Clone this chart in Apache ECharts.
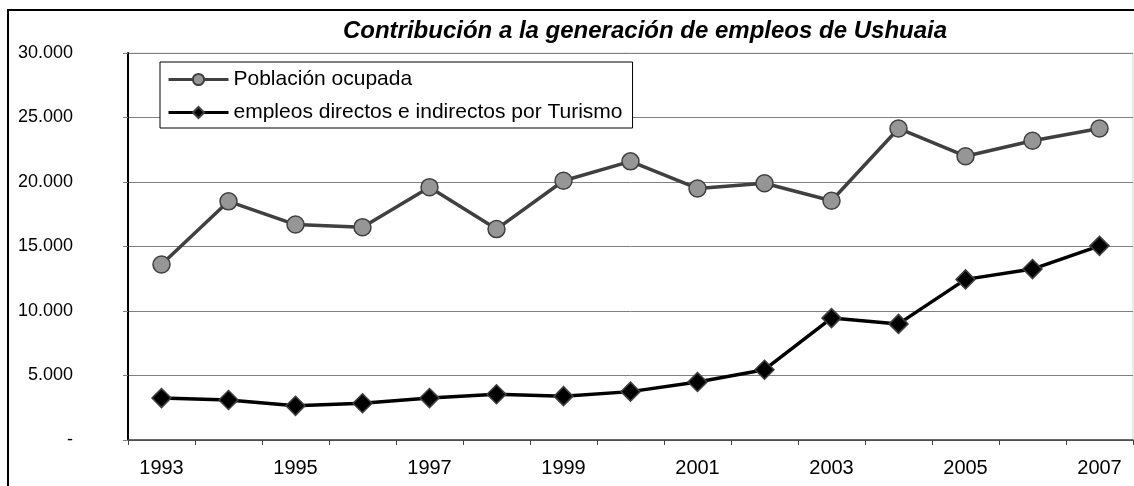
<!DOCTYPE html>
<html><head><meta charset="utf-8">
<script src="https://cdn.jsdelivr.net/npm/echarts@6/dist/echarts.min.js"></script>
<style>html,body{margin:0;padding:0;background:#fff}#c{width:1134px;height:486px}</style>
</head><body><div id="c"></div>
<script>
const chartTitle = 'Contribución a la generación de empleos de Ushuaia';
const years = ['1993','1994','1995','1996','1997','1998','1999','2000','2001','2002','2003','2004','2005','2006','2007'];
const seriesNames = ['Población ocupada', 'empleos directos e indirectos por Turismo'];
const poblacionOcupada = [13600,18500,16700,16500,19600,16350,20100,21600,19500,19900,18550,24150,22000,23200,24150];
const empleosTurismo = [3250,3100,2650,2850,3250,3550,3400,3750,4500,5450,9450,9000,12450,13250,15050];
const yMin = 0, yMax = 30000, yStep = 5000;

const FONT = 'Liberation Sans, Arial, sans-serif';
function fmt(v){ if (v === 0) return '-'; return String(v).replace(/\B(?=(\d{3})+(?!\d))/g, '.'); }

const chart = echarts.init(document.getElementById('c'), null, {renderer:'canvas'});
chart.setOption({
  backgroundColor: '#fff',
  animation: false,
  graphic: [
    {type:'rect', z: 100, shape:{x:8, y:10, width:1300, height:600}, style:{fill:'none', stroke:'#000', lineWidth:2}, silent:true},
    {type:'text', z: 100, x: 645, y: 31, style:{text: chartTitle, font: 'italic bold 24px ' + FONT, fill:'#000', textAlign:'center', textVerticalAlign:'middle'}}
  ],
  grid: {left:128, right:1, top:53, bottom:46, show:true, borderColor:'#d4d4d4', borderWidth:1, backgroundColor:'transparent'},
  legend: {
    orient:'vertical', left:160, top:62,
    data: seriesNames,
    itemWidth:60, itemHeight:14, itemGap:12,
    padding:[7,10,5,7],
    backgroundColor:'#fff', borderColor:'#000', borderWidth:1,
    lineStyle:{width:3},
    textStyle:{fontFamily:FONT, fontSize:21, color:'#000'}
  },
  xAxis: {
    type:'category', data: years, boundaryGap:true,
    axisLine:{show:true, lineStyle:{color:'#404040', width:1.5}},
    axisTick:{show:true, interval:0, length:5, alignWithLabel:false, lineStyle:{color:'#404040', width:1}},
    axisLabel:{interval:1, margin:18, fontFamily:FONT, fontSize:20, color:'#000'},
    splitLine:{show:false}
  },
  yAxis: {
    type:'value', min:yMin, max:yMax, interval:yStep,
    axisLine:{show:true, lineStyle:{color:'#000', width:2}},
    axisTick:{show:true, length:5, lineStyle:{color:'#808080', width:1}},
    axisLabel:{margin:55, fontFamily:FONT, fontSize:18, color:'#000', formatter: fmt},
    splitLine:{show:true, lineStyle:{color:'#808080', width:1}}
  },
  series: [
    {
      name: seriesNames[0], type:'line', data: poblacionOcupada,
      symbol:'circle', symbolSize:17,
      lineStyle:{color:'#404040', width:3.5},
      itemStyle:{color:'#969696', borderColor:'#404040', borderWidth:1.5},
      z: 3
    },
    {
      name: seriesNames[1], type:'line', data: empleosTurismo,
      symbol:'diamond', symbolSize:19,
      lineStyle:{color:'#000', width:3.5},
      itemStyle:{color:'#000', borderColor:'#404040', borderWidth:1.5},
      z: 2
    }
  ]
});
</script></body></html>
